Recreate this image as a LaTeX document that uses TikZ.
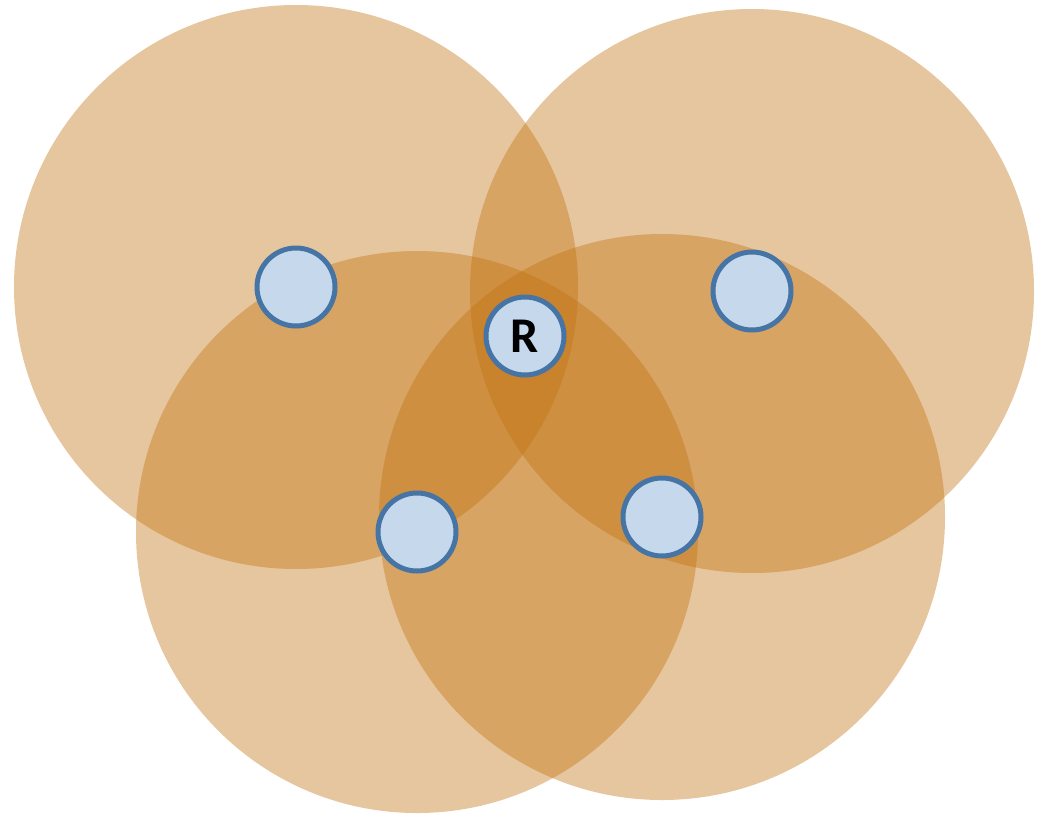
\documentclass[tikz,border=0pt]{standalone}
\usepackage{fontspec}
\setsansfont{Carlito}
\usetikzlibrary{positioning,backgrounds}
\definecolor{ochre}   {HTML}{C0700D}
\definecolor{nodefill}{HTML}{C5D8EC}
\definecolor{nodeline}{HTML}{4675A5}
\tikzset{
  % --- nodes
  station/.style = {circle, draw=nodeline, fill=nodefill, line width=5pt,
                    minimum size=78pt, inner sep=0pt,
                    font=\fontsize{50}{54}\selectfont\sffamily\bfseries},
  % --- ranges
  zone/.style    = {fill=ochre, fill opacity=0.4},
}
\begin{document}
\begin{tikzpicture}[x=1pt,y=-1pt]
  \useasboundingbox (0,0) rectangle (1048,815);

  \node[station] (s1) at (296,287) {};
  \node[station] (s2) at (752,291) {};
  \node[station] (s3) at (417,532) {};
  \node[station] (s4) at (662,517) {};
  \node[station] (r)  at (525,336) {R};

  \begin{scope}[on background layer]
    \foreach \s/\rad in {s1/282,s2/282,s3/281,s4/283}
      \fill[zone] (\s.center) circle[radius=\rad];
  \end{scope}
\end{tikzpicture}
\end{document}
